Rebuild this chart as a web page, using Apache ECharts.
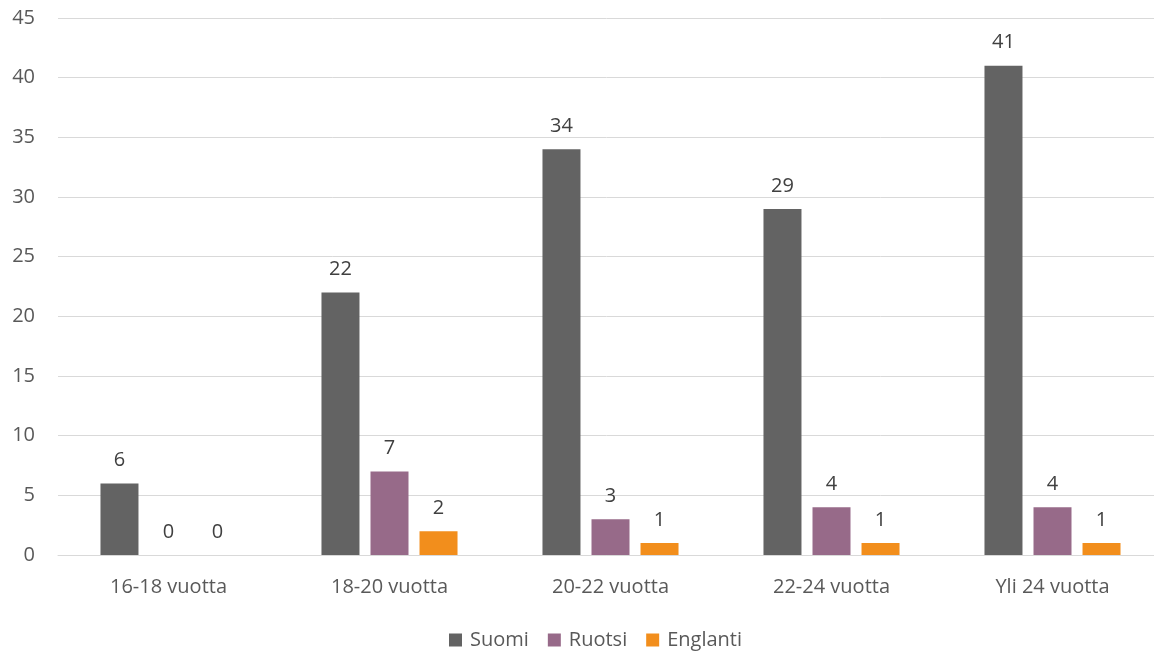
<!DOCTYPE html>
<html>
<head>
<meta charset="utf-8">
<script src="https://cdn.jsdelivr.net/npm/echarts@6/dist/echarts.min.js"></script>
<style>
  html, body { margin: 0; padding: 0; background: #fff; }
  #chart { width: 1154px; height: 651px; }
</style>
</head>
<body>
<div id="chart"></div>
<script>
// categories and series values
const categories = ["16-18 vuotta", "18-20 vuotta", "20-22 vuotta", "22-24 vuotta", "Yli 24 vuotta"];
const suomi = [6, 22, 34, 29, 41];
const ruotsi = [0, 7, 3, 4, 4];
const englanti = [0, 2, 1, 1, 1];

const font = "'Open Sans', 'Noto Sans', sans-serif";

function makeSeries(name, data, color) {
  return {
    name: name,
    type: "bar",
    data: data,
    barWidth: 38,
    barGap: "29%",
    itemStyle: { color: color },
    label: {
      show: true,
      position: "top",
      distance: 13,
      color: "#404040",
      fontSize: 20,
      fontFamily: font,
    },
  };
}

const chart = echarts.init(document.getElementById("chart"));
chart.setOption({
  animation: false,
  grid: { left: 58, top: 18, width: 1105, height: 537, outerBoundsMode: "none" },
  legend: {
    top: 625,
    left: 444,
    itemWidth: 13,
    itemHeight: 13,
    itemGap: 19,
    icon: "rect",
    textStyle: { color: "#595959", fontSize: 20, fontFamily: font, padding: [0, 0, 0, 3] },
    data: ["Suomi", "Ruotsi", "Englanti"],
  },
  xAxis: {
    type: "category",
    data: categories,
    axisLine: { lineStyle: { color: "#d9d9d9", width: 1 } },
    axisTick: { show: false },
    axisLabel: { color: "#595959", fontSize: 20, fontFamily: font, margin: 22 },
  },
  yAxis: {
    type: "value",
    min: 0,
    max: 45,
    interval: 5,
    axisLine: { show: false },
    axisTick: { show: false },
    splitLine: { lineStyle: { color: "#d9d9d9", width: 1 } },
    axisLabel: { color: "#595959", fontSize: 20, fontFamily: font, margin: 23 },
  },
  series: [
    makeSeries("Suomi", suomi, "#636363"),
    makeSeries("Ruotsi", ruotsi, "#976a89"),
    makeSeries("Englanti", englanti, "#f28e1c"),
  ],
});
</script>
</body>
</html>
